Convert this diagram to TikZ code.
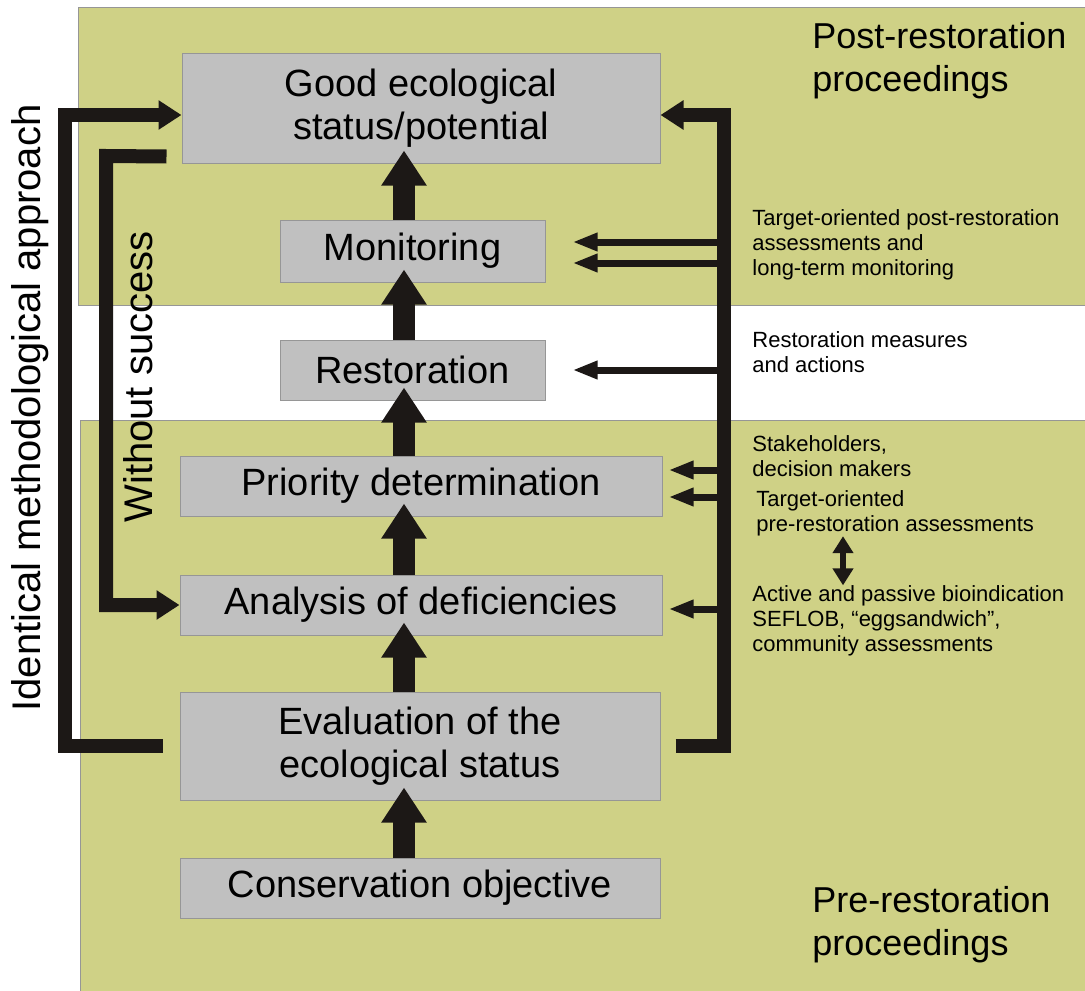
\documentclass[tikz,border=0pt]{standalone}
\usepackage{fontspec}
\setmainfont{Liberation Sans}
\usepackage{xcolor}
\usetikzlibrary{arrows.meta, positioning, calc}

\definecolor{bandgreen}{RGB}{207,209,134}
\definecolor{boxgrey}{RGB}{192,192,192}
\definecolor{edgegrey}{RGB}{150,150,150}
\definecolor{ink}{RGB}{28,24,22}

\begin{document}
\begin{tikzpicture}[x=0.5pt, y=-0.5pt,
            band/.style={draw=edgegrey, fill=bandgreen, line width=0.5pt},
            stage/.style={rectangle, draw=edgegrey, fill=boxgrey, line width=0.5pt,
                    inner sep=0pt, align=center, font=\fontsize{19}{21.5}\selectfont},
            note/.style={inner sep=0pt, anchor=west, align=left,
                    font=\fontsize{11}{12.5}\selectfont},
            phase/.style={inner sep=0pt, anchor=west, align=left,
                    font=\fontsize{18}{21.5}\selectfont},
            side/.style={inner sep=0pt, rotate=90, font=\fontsize{20}{24}\selectfont},
            up/.style={draw=ink, line width=11pt, shorten >=-6.5pt,
                    -{Triangle[width=21.5pt,length=17.5pt]}},
            loop/.style={draw=ink, line width=7pt,
                    -{Triangle[width=14pt,length=11.5pt]}},
            feed/.style={draw=ink, line width=3.5pt,
                    -{Triangle[width=8.5pt,length=12.5pt]}},
            both/.style={draw=ink, line width=3pt,
                    {Triangle[width=10pt,length=8.5pt]}-{Triangle[width=10pt,length=8.5pt]}}
            ]

            %% ---- Page and bands ----
            \fill[white] (0,0) rectangle (1085,990);
            \useasboundingbox (0,0) rectangle (1085,990);
            \draw[band] (78,8) rectangle (1090,305);
            \draw[band] (80,420) rectangle (1090,995);

            %% ---- Stages ----
            \node[stage, minimum width=239pt, minimum height=54.5pt] (good) at (421,108.5)
                {Good ecological\\status/potential};
            \node[stage, minimum width=132.5pt, minimum height=31pt] (mon) at (412.5,251)
                {Monitoring};
            \node[stage, minimum width=132.5pt, minimum height=30pt] (res) at (412.5,370)
                {Restoration};
            \node[stage, minimum width=241pt, minimum height=30pt] (prio) at (421,486)
                {Priority determination};
            \node[stage, minimum width=241pt, minimum height=30pt] (ana) at (421,605)
                {Analysis of deficiencies};
            \node[stage, minimum width=240pt, minimum height=54pt] (eval) at (420,746)
                {Evaluation of the\\ecological status};
            \node[stage, minimum width=240pt, minimum height=30pt] (cons) at (420,888)
                {Conservation objective};

            %% ---- Labels ----
            \node[phase] (post) at (812,61) {Post-restoration\\proceedings};
            \node[phase] (pre) at (812,925) {Pre-restoration\\proceedings};
            \node[note] (postA) at (752,245)
                {Target-oriented post-restoration\\assessments and\\long-term monitoring};
            \node[note] (resA) at (752,352) {Restoration measures\\and actions};
            \node[note] (stake) at (752,456) {Stakeholders,\\decision makers};
            \node[note] (preA) at (756,513) {Target-oriented\\pre-restoration assessments};
            \node[note] (bio) at (752,621)
                {Active and passive bioindication\\SEFLOB, “eggsandwich”,\\community assessments};
            \node[side] (ident) at (30,408) {Identical methodological approach};
            \node[side] (fail) at (138,377) {Without success};

            %% ---- Helper coordinates ----
            \coordinate (spine) at (404,0);
            \coordinate (ltop) at (65,115);
            \coordinate (wtop) at (106,156);
            \coordinate (rtop) at (724,115);
            \coordinate (dbl) at (843,0);

            %% ---- Main chain ----
            % Conservation objective up to good status
            \draw[up] (cons.north -| spine) -- (eval.south -| spine);
            \draw[up] (eval.north -| spine) -- (ana.south -| spine);
            \draw[up] (ana.north -| spine) -- (prio.south -| spine);
            \draw[up] (prio.north -| spine) -- (res.south -| spine);
            \draw[up] (res.north -| spine) -- (mon.south -| spine);
            \draw[up] (mon.north -| spine) -- (good.south -| spine);

            %% ---- Loops ----
            % Identical methodological approach
            \draw[loop] ([xshift=-8.5pt]eval.west) -| (ltop) -- (ltop -| good.west);
            % Without success back to analysis
            \draw[loop] ([xshift=-7.5pt,yshift=3.5pt]good.south west) -- (wtop) |- (ana.west);
            % Right-hand assessment bar
            \draw[loop] ([xshift=7.5pt]eval.east) -| (rtop) -- (rtop -| good.east);

            %% ---- Inputs from the bar ----
            \draw[feed] ([yshift=4.5pt]mon.east -| rtop) -- ([xshift=13.5pt,yshift=4.5pt]mon.east);
            \draw[feed] ([yshift=-6pt]mon.east -| rtop) -- ([xshift=13.5pt,yshift=-6pt]mon.east);
            \draw[feed] (res.east -| rtop) -- ([xshift=13.5pt]res.east);
            \draw[feed] ([yshift=8pt]prio.east -| rtop) -- ([xshift=3pt,yshift=8pt]prio.east);
            \draw[feed] ([yshift=-5.5pt]prio.east -| rtop) -- ([xshift=3pt,yshift=-5.5pt]prio.east);
            \draw[feed] ([yshift=-2pt]ana.east -| rtop) -- ([xshift=3pt,yshift=-2pt]ana.east);
            % pre-restoration assessments <-> bioindication
            \draw[both] (preA.south -| dbl) -- (bio.north -| dbl);
        \end{tikzpicture}
\end{document}
